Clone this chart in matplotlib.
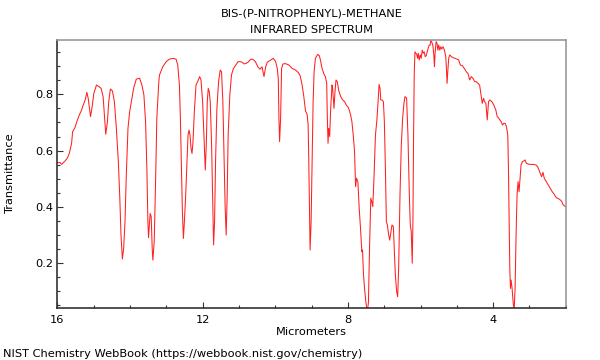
import matplotlib
matplotlib.use('Agg')
import matplotlib.pyplot as plt
from matplotlib.ticker import MultipleLocator
import numpy as np

# wavelength (micrometers) and transmittance
wavelength = [
	16.0, 15.926, 15.88, 15.79, 15.725, 15.67, 15.606, 15.579, 15.515, 15.47,
	15.396, 15.332, 15.287, 15.232, 15.186, 15.15, 15.086, 15.04, 14.995, 14.921,
	14.849, 14.794, 14.739, 14.702, 14.666, 14.62, 14.584, 14.538, 14.483, 14.428,
	14.374, 14.319, 14.282, 14.246, 14.209, 14.173, 14.136, 14.1, 14.054, 14.008,
	13.953, 13.899, 13.826, 13.734, 13.67, 13.616, 13.57, 13.534, 13.506, 13.488,
	13.46, 13.442, 13.415, 13.387, 13.369, 13.332, 13.296, 13.26, 13.205, 13.186,
	13.095, 13.003, 12.912, 12.821, 12.729, 12.684, 12.638, 12.611, 12.583, 12.556,
	12.528, 12.501, 12.465, 12.428, 12.401, 12.373, 12.346, 12.318, 12.291, 12.264,
	12.227, 12.181, 12.136, 12.081, 12.044, 11.999, 11.962, 11.926, 11.898, 11.871,
	11.844, 11.816, 11.789, 11.752, 11.725, 11.697, 11.67, 11.643, 11.606, 11.56,
	11.515, 11.478, 11.442, 11.405, 11.378, 11.35, 11.323, 11.296, 11.25, 11.204,
	11.15, 11.086, 11.022, 10.967, 10.912, 10.857, 10.802, 10.748, 10.675, 10.611,
	10.547, 10.474, 10.419, 10.364, 10.309, 10.263, 10.218, 10.126, 10.053, 9.989,
	9.944, 9.916, 9.898, 9.88, 9.852, 9.825, 9.788, 9.715, 9.624, 9.533,
	9.441, 9.368, 9.314, 9.259, 9.213, 9.167, 9.122, 9.094, 9.076, 9.058,
	9.04, 9.012, 8.985, 8.957, 8.93, 8.893, 8.83, 8.784, 8.747, 8.711,
	8.656, 8.62, 8.583, 8.565, 8.546, 8.528, 8.501, 8.473, 8.437, 8.419,
	8.382, 8.355, 8.327, 8.291, 8.254, 8.199, 8.145, 8.09, 8.035, 7.998,
	7.962, 7.925, 7.889, 7.852, 7.816, 7.788, 7.761, 7.725, 7.688, 7.652,
	7.615, 7.597, 7.569, 7.542, 7.505, 7.469, 7.46, 7.433, 7.406, 7.369,
	7.342, 7.314, 7.278, 7.241, 7.205, 7.168, 7.141, 7.113, 7.095, 7.059,
	7.022, 6.995, 6.967, 6.94, 6.912, 6.876, 6.849, 6.812, 6.785, 6.748,
	6.721, 6.693, 6.657, 6.629, 6.602, 6.565, 6.529, 6.492, 6.456, 6.428,
	6.383, 6.346, 6.31, 6.282, 6.255, 6.228, 6.209, 6.191, 6.173, 6.154,
	6.127, 6.1, 6.081, 6.063, 6.036, 6.008, 5.981, 5.954, 5.926, 5.899,
	5.871, 5.844, 5.817, 5.789, 5.762, 5.734, 5.716, 5.689, 5.661, 5.634,
	5.616, 5.597, 5.57, 5.543, 5.524, 5.497, 5.47, 5.442, 5.415, 5.378,
	5.342, 5.305, 5.287, 5.269, 5.25, 5.223, 5.196, 5.15, 5.104, 5.05,
	4.995, 4.949, 4.903, 4.849, 4.794, 4.739, 4.693, 4.647, 4.602, 4.556,
	4.51, 4.465, 4.419, 4.373, 4.328, 4.3, 4.264, 4.236, 4.2, 4.163,
	4.127, 4.09, 4.036, 3.981, 3.926, 3.889, 3.853, 3.816, 3.78, 3.743,
	3.707, 3.67, 3.634, 3.597, 3.579, 3.561, 3.542, 3.524, 3.506, 3.479,
	3.451, 3.424, 3.396, 3.369, 3.342, 3.314, 3.287, 3.259, 3.232, 3.195,
	3.159, 3.122, 3.086, 3.031, 2.958, 2.885, 2.821, 2.775, 2.739, 2.702,
	2.666, 2.629, 2.593, 2.538, 2.483, 2.428, 2.373, 2.319, 2.264, 2.209,
	2.154, 2.109, 2.072, 2.0]
transmittance = [
	0.557, 0.558, 0.551, 0.563, 0.573, 0.59, 0.626, 0.667, 0.681, 0.7,
	0.726, 0.744, 0.762, 0.78, 0.807, 0.786, 0.721, 0.756, 0.803, 0.833,
	0.827, 0.821, 0.792, 0.726, 0.658, 0.703, 0.774, 0.819, 0.812, 0.774,
	0.679, 0.561, 0.442, 0.3, 0.215, 0.253, 0.348, 0.513, 0.679, 0.738,
	0.78, 0.821, 0.854, 0.857, 0.833, 0.798, 0.703, 0.537, 0.348, 0.291,
	0.348, 0.377, 0.365, 0.253, 0.211, 0.276, 0.478, 0.715, 0.845, 0.869,
	0.898, 0.916, 0.925, 0.928, 0.925, 0.904, 0.833, 0.715, 0.537, 0.383,
	0.288, 0.348, 0.442, 0.561, 0.655, 0.673, 0.655, 0.608, 0.59, 0.632,
	0.738, 0.833, 0.845, 0.863, 0.851, 0.774, 0.655, 0.531, 0.62, 0.774,
	0.821, 0.809, 0.774, 0.62, 0.442, 0.265, 0.348, 0.561, 0.75, 0.845,
	0.886, 0.88, 0.774, 0.561, 0.395, 0.3, 0.442, 0.655, 0.798, 0.869,
	0.892, 0.904, 0.916, 0.916, 0.914, 0.908, 0.91, 0.914, 0.925, 0.924,
	0.916, 0.897, 0.889, 0.898, 0.863, 0.898, 0.914, 0.922, 0.928, 0.916,
	0.892, 0.857, 0.715, 0.632, 0.715, 0.892, 0.908, 0.909, 0.904, 0.892,
	0.886, 0.878, 0.866, 0.833, 0.792, 0.741, 0.729, 0.691, 0.561, 0.395,
	0.247, 0.348, 0.561, 0.774, 0.88, 0.928, 0.942, 0.937, 0.916, 0.892,
	0.871, 0.863, 0.839, 0.715, 0.626, 0.679, 0.65, 0.75, 0.833, 0.821,
	0.75, 0.809, 0.851, 0.845, 0.815, 0.792, 0.78, 0.774, 0.76, 0.756,
	0.744, 0.727, 0.703, 0.655, 0.596, 0.472, 0.502, 0.49, 0.395, 0.324,
	0.241, 0.247, 0.158, 0.111, 0.063, 0.03, 0.03, 0.063, 0.241, 0.431,
	0.419, 0.401, 0.513, 0.655, 0.703, 0.774, 0.835, 0.821, 0.78, 0.78,
	0.774, 0.703, 0.537, 0.348, 0.336, 0.3, 0.282, 0.312, 0.336, 0.33,
	0.241, 0.158, 0.099, 0.081, 0.182, 0.442, 0.62, 0.715, 0.768, 0.792,
	0.786, 0.655, 0.454, 0.336, 0.312, 0.2, 0.348, 0.655, 0.869, 0.951,
	0.946, 0.94, 0.928, 0.946, 0.922, 0.94, 0.928, 0.957, 0.946, 0.951,
	0.934, 0.937, 0.951, 0.963, 0.975, 0.975, 0.993, 0.985, 0.975, 0.94,
	0.898, 0.951, 0.987, 0.981, 0.957, 0.975, 0.957, 0.969, 0.961, 0.969,
	0.957, 0.934, 0.892, 0.839, 0.88, 0.928, 0.94, 0.934, 0.93, 0.928,
	0.925, 0.922, 0.904, 0.902, 0.892, 0.88, 0.874, 0.851, 0.863, 0.857,
	0.845, 0.845, 0.839, 0.833, 0.792, 0.768, 0.786, 0.774, 0.768, 0.709,
	0.774, 0.78, 0.774, 0.762, 0.744, 0.721, 0.717, 0.709, 0.703, 0.691,
	0.697, 0.697, 0.685, 0.655, 0.537, 0.359, 0.182, 0.111, 0.14, 0.111,
	0.063, 0.03, 0.111, 0.3, 0.442, 0.49, 0.454, 0.502, 0.549, 0.561,
	0.563, 0.567, 0.555, 0.552, 0.551, 0.551, 0.549, 0.543, 0.531, 0.519,
	0.507, 0.523, 0.502, 0.49, 0.478, 0.466, 0.454, 0.445, 0.433, 0.43,
	0.425, 0.419, 0.407, 0.40]

title_lines = ['BIS-(P-NITROPHENYL)-METHANE', 'INFRARED SPECTRUM']
x_ticks = [16, 12, 8, 4]

fig = plt.figure(figsize=(6, 3.6), dpi=100)
ax = fig.add_axes([0.0955, 0.1453, 0.8475, 0.7436])

ax.plot(wavelength, transmittance, color='#ff2020', linewidth=0.75)

ax.set_xlim(16, 2)
ax.set_ylim(0.042, 0.993)
ax.set_xticks(x_ticks)
ax.set_xticklabels([str(t) for t in x_ticks])
ax.xaxis.set_minor_locator(MultipleLocator(1))
ax.yaxis.set_major_locator(MultipleLocator(0.2))
ax.yaxis.set_minor_locator(MultipleLocator(0.05))

ax.tick_params(which='both', direction='in', top=False, right=False,
	colors='#333333', labelcolor='black', labelsize=8.2)
ax.tick_params(which='major', length=4, width=0.8)
ax.tick_params(which='minor', length=2.5, width=0.8)
ax.tick_params(axis='x', pad=5)
ax.tick_params(axis='y', pad=3)

ax.spines['left'].set_color('#333333')
ax.spines['bottom'].set_color('#333333')
ax.spines['top'].set_color('#999999')
ax.spines['right'].set_color('#999999')
for s in ax.spines.values():
	s.set_linewidth(1.2)

fs = 8.2
fig.text(0.519, 0.953, title_lines[0], ha='center', va='baseline', fontsize=fs)
fig.text(0.519, 0.908, title_lines[1], ha='center', va='baseline', fontsize=fs)
fig.text(0.519, 0.069, 'Micrometers', ha='center', va='baseline', fontsize=fs)
fig.text(0.017, 0.517, 'Transmittance', ha='center', va='center', rotation=90, fontsize=fs)
fig.text(0.005, 0.009, 'NIST Chemistry WebBook (https://webbook.nist.gov/chemistry)',
	ha='left', va='baseline', fontsize=fs)

fig.savefig('out.png', dpi=100)
